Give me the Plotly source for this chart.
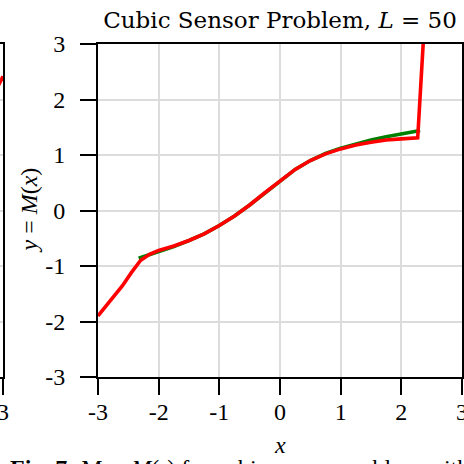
import plotly.graph_objects as go

# ---------------- data ----------------
x_ticks = [-3, -2, -1, 0, 1, 2, 3]
x_tick_labels = ["-3", "-2", "-1", "0", "1", "2", "3"]
y_ticks = [-3, -2, -1, 0, 1, 2, 3]
y_tick_labels = ["-3", "-2", "-1", "0", "1", "2", "3"]

red_x = [-3.0, -2.8, -2.6, -2.45, -2.3, -2.15, -2.0, -1.75, -1.5, -1.25, -1.0, -0.75,
         -0.5, -0.25, 0.0, 0.25, 0.5, 0.75, 1.0, 1.25, 1.5, 1.75, 2.0, 2.27, 2.36, 2.42]
red_y = [-1.90, -1.62, -1.36, -1.12, -0.90, -0.79, -0.72, -0.64, -0.54, -0.42, -0.27, -0.10,
         0.10, 0.32, 0.54, 0.74, 0.90, 1.02, 1.11, 1.18, 1.23, 1.27, 1.29, 1.31, 3.0, 4.0]

green_x = [-2.33, -2.15, -2.0, -1.75, -1.5, -1.25, -1.0, -0.75, -0.5, -0.25, 0.0, 0.25,
           0.5, 0.75, 1.0, 1.25, 1.5, 1.75, 2.0, 2.31]
green_y = [-0.86, -0.80, -0.74, -0.65, -0.54, -0.42, -0.27, -0.10, 0.10, 0.32, 0.54, 0.74,
           0.90, 1.03, 1.12, 1.20, 1.27, 1.33, 1.38, 1.44]

# neighbouring (cut-off) panel on the left
left_x = [2.85, 3.0]
left_y = [2.26, 2.42]
left_ticks = [3]
left_tick_labels = ["3"]

title_text = "Cubic Sensor Problem, <i>L</i> = 50"
caption_text = "<b>Fig. 7:</b> Map <i>M</i>(·) for cubic sensor problem with the"

W, H = 464, 464
FONT = "Liberation Serif"
TITLE_FONT = "DejaVu Serif"

fig = go.Figure()
fig.add_trace(go.Scatter(x=green_x, y=green_y, mode="lines",
                         line=dict(color="#008000", width=3.6), xaxis="x", yaxis="y"))
fig.add_trace(go.Scatter(x=red_x, y=red_y, mode="lines",
                         line=dict(color="#ff0000", width=3.6), xaxis="x", yaxis="y"))
fig.add_trace(go.Scatter(x=left_x, y=left_y, mode="lines",
                         line=dict(color="#ff0000", width=3.6), xaxis="x2", yaxis="y2"))

axis_common = dict(showline=True, linecolor="black", linewidth=2, mirror=True,
                   ticks="outside", ticklen=16, tickwidth=2, tickcolor="black",
                   showgrid=True, gridcolor="#dcdcdc", gridwidth=1.5, zeroline=False,
                   automargin=False, ticklabeloverflow="allow",
                   tickfont=dict(family=FONT, size=24, color="black"))

fig.update_layout(
    width=W, height=H,
    margin=dict(l=0, r=0, t=44, b=87, pad=0),
    paper_bgcolor="white", plot_bgcolor="white",
    showlegend=False,
    font=dict(family=FONT, color="black"),
    xaxis=dict(domain=[98 / W, 462 / W], range=[-3, 3], tickvals=x_ticks,
               ticktext=x_tick_labels, anchor="y", ticklabelstandoff=-4, **axis_common),
    yaxis=dict(domain=[0, 1], range=[-3, 3], tickvals=y_ticks, ticktext=y_tick_labels,
               anchor="x", ticklabelstandoff=10, **axis_common),
    xaxis2=dict(domain=[0, 3 / W], range=[2.9, 3.0], tickvals=left_ticks,
                ticktext=left_tick_labels, anchor="y2", ticklabelstandoff=-4, **axis_common),
    yaxis2=dict(domain=[0, 1], range=[-3, 3], tickvals=y_ticks, anchor="x2",
                side="right", showline=True, linecolor="black", linewidth=2, mirror=False,
                ticks="", showticklabels=False, showgrid=True, gridcolor="#dcdcdc",
                gridwidth=1.5, zeroline=False, automargin=False),
    title=dict(text=title_text, x=280 / W, xanchor="center", xref="container",
               y=1 - 20 / H, yanchor="middle", yref="container",
               font=dict(family=TITLE_FONT, size=23, color="black")),
)

fig.add_annotation(text="<i>y</i> = <i>M</i>(<i>x</i>)", xref="paper", yref="paper",
                   x=28 / W, y=0.5, textangle=-90, showarrow=False,
                   xanchor="center", yanchor="middle",
                   font=dict(family=FONT, size=24, color="black"))
fig.add_annotation(text="<i>x</i>", xref="paper", yref="paper",
                   x=280 / W, y=-(445 - 377) / (377 - 44), showarrow=False,
                   xanchor="center", yanchor="middle",
                   font=dict(family=FONT, size=24, color="black"))
fig.add_annotation(text=caption_text, xref="paper", yref="paper",
                   x=8 / W, y=-(453 - 377) / (377 - 44), showarrow=False,
                   xanchor="left", yanchor="top",
                   font=dict(family=FONT, size=24, color="black"))

fig.write_html("out.html", config={"displayModeBar": False},
               post_script="document.body.style.margin='0';document.body.style.overflow='hidden';")
